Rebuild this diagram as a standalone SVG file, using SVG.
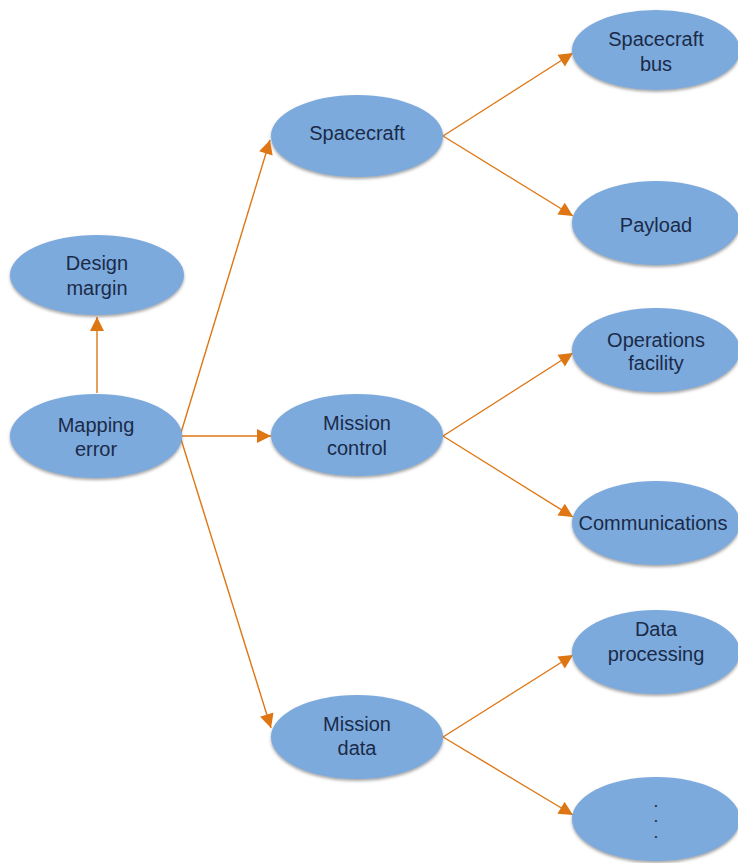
<svg xmlns="http://www.w3.org/2000/svg" width="738" height="863" viewBox="0 0 738 863">
<defs>
<filter id="sh" x="-10%" y="-10%" width="120%" height="130%">
<feGaussianBlur in="SourceAlpha" stdDeviation="1.5"/>
<feOffset dy="2" result="b"/>
<feFlood flood-color="#6b6b6b" flood-opacity="0.6"/>
<feComposite in2="b" operator="in"/>
<feMerge><feMergeNode/><feMergeNode in="SourceGraphic"/></feMerge>
</filter>
<marker id="ah" viewBox="0 0 10 10" refX="10" refY="5" markerWidth="15" markerHeight="14" markerUnits="userSpaceOnUse" orient="auto">
<path d="M0,0 L10,5 L0,10 z" fill="#DE7613"/>
</marker>
<style>
.n ellipse{fill:#7BAADD;filter:url(#sh)}
.n text{font-family:"Liberation Sans",Arial,sans-serif;font-size:20px;fill:#1B2A48;text-anchor:middle}
.n text.dot{font-size:12px;font-weight:bold}
.c line{stroke:#DE7613;stroke-width:1.4;marker-end:url(#ah)}
</style>
</defs>
<rect width="738" height="863" fill="#fff"/>
<g id="connectors" class="c">
<line x1="97" y1="393" x2="97" y2="317"/>
<line x1="180" y1="436" x2="270" y2="140"/>
<line x1="180" y1="436" x2="271" y2="436"/>
<line x1="180" y1="436" x2="271" y2="728"/>
<line x1="443" y1="136" x2="573" y2="53"/>
<line x1="443" y1="136" x2="573" y2="216"/>
<line x1="443" y1="436" x2="573" y2="353"/>
<line x1="443" y1="436" x2="573" y2="517"/>
<line x1="443" y1="737" x2="573" y2="655"/>
<line x1="443" y1="737" x2="573" y2="815"/>
</g>
<g id="design-margin" class="n"><ellipse cx="97" cy="275" rx="87" ry="40"/><text x="97" y="270">Design</text><text x="97" y="295">margin</text></g>
<g id="mapping-error" class="n"><ellipse cx="96" cy="436" rx="86" ry="42"/><text x="96" y="432">Mapping</text><text x="96" y="456">error</text></g>
<g id="spacecraft" class="n"><ellipse cx="357" cy="136" rx="86" ry="41"/><text x="357" y="140">Spacecraft</text></g>
<g id="mission-control" class="n"><ellipse cx="357" cy="435" rx="86" ry="41"/><text x="357" y="430">Mission</text><text x="357" y="455">control</text></g>
<g id="mission-data" class="n"><ellipse cx="357" cy="737" rx="86" ry="42"/><text x="357" y="731">Mission</text><text x="357" y="755">data</text></g>
<g id="spacecraft-bus" class="n"><ellipse cx="656" cy="50" rx="84" ry="40"/><text x="656" y="46">Spacecraft</text><text x="656" y="71">bus</text></g>
<g id="payload" class="n"><ellipse cx="656" cy="223" rx="84" ry="42"/><text x="656" y="232">Payload</text></g>
<g id="operations-facility" class="n"><ellipse cx="656" cy="350" rx="84" ry="42"/><text x="656" y="347">Operations</text><text x="656" y="370">facility</text></g>
<g id="communications" class="n"><ellipse cx="656" cy="523" rx="84" ry="42"/><text x="653" y="530">Communications</text></g>
<g id="data-processing" class="n"><ellipse cx="656" cy="652" rx="84" ry="42"/><text x="656" y="636">Data</text><text x="656" y="661">processing</text></g>
<g id="more" class="n"><ellipse cx="656" cy="819" rx="84" ry="42"/><text class="dot" x="656" y="807">.</text><text class="dot" x="656" y="822">.</text><text class="dot" x="656" y="838">.</text></g>
</svg>
